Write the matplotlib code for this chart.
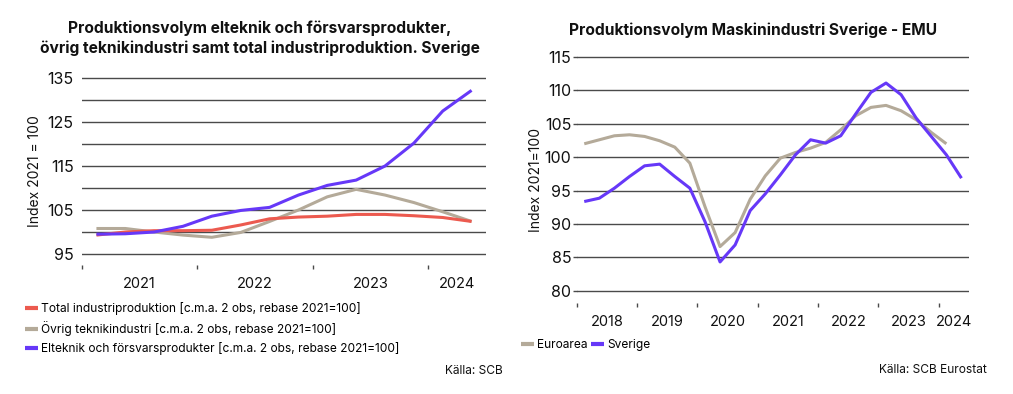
import numpy as np
import matplotlib
matplotlib.use("Agg")
import matplotlib.pyplot as plt
from matplotlib.lines import Line2D

plt.rcParams['font.family'] = ['Inter', 'DejaVu Sans']

# ---------------- Data ----------------
quarters_left = ["2021Q1", "2021Q2", "2021Q3", "2021Q4",
                 "2022Q1", "2022Q2", "2022Q3", "2022Q4",
                 "2023Q1", "2023Q2", "2023Q3", "2023Q4",
                 "2024Q1", "2024Q2"]
total_industri = [99.3, 100.0, 100.3, 100.3, 100.4, 101.6, 103.0, 103.4,
                  103.6, 104.0, 104.0, 103.7, 103.3, 102.4]
ovrig_teknik = [100.8, 100.8, 100.0, 99.3, 98.8, 99.9, 102.4, 105.0,
                108.0, 109.7, 108.4, 106.7, 104.6, 102.4]
elteknik_forsvar = [99.5, 99.6, 100.0, 101.3, 103.6, 104.9, 105.6, 108.4,
                    110.6, 111.8, 115.0, 120.2, 127.5, 132.2]
years_left = ["2021", "2022", "2023", "2024"]

quarters_right = [f"{y}Q{q}" for y in range(2018, 2025) for q in range(1, 5)][:26]
sverige = [93.35, 93.85, 95.35, 97.1, 98.7, 98.95, 97.1, 95.35,
           90.35, 84.3, 86.85, 92.0, 94.5, 97.35, 100.35, 102.6,
           102.1, 103.2, 106.5, 109.7, 111.1, 109.35, 105.85, 103.1,
           100.35, 96.85]
euroarea = [102.0, 102.6, 103.2, 103.35, 103.1, 102.45, 101.5, 99.1,
            92.6, 86.6, 88.7, 93.7, 97.2, 99.85, 100.7, 101.35,
            102.2, 104.1, 106.2, 107.45, 107.75, 106.95, 105.6, 103.7,
            102.0]
years_right = ["2018", "2019", "2020", "2021", "2022", "2023", "2024"]

# ---------------- Style ----------------
RED = "#EC5A4F"
GRAY = "#B4AA99"
BLUE = "#6638F8"
GRID = "#4a4a4a"
TXT = "#111111"

W, H = 1013, 394
fig = plt.figure(figsize=(W / 100, H / 100), dpi=100)


def px_axes(l, r, t, b):
    return fig.add_axes([l / W, 1 - b / H, (r - l) / W, (b - t) / H])


def style_axes(ax, n, years, yticks, ylabels_every):
    for s in ax.spines.values():
        s.set_visible(False)
    ax.set_xlim(-0.5, n - 0.5)
    bounds = [i - 0.5 for i in range(0, n, 4)]
    centres = []
    for k in range(len(years)):
        a = 4 * k
        b = min(4 * k + 3, n - 1)
        centres.append((a + b) / 2)
    ax.set_xticks(bounds, minor=True)
    ax.set_xticks(centres)
    ax.set_xticklabels(years, fontsize=10.5, color=TXT)
    ax.tick_params(axis='x', which='major', length=0, pad=9)
    ax.tick_params(axis='x', which='minor', length=3, width=1.0,
                   color=GRID, direction='out')
    ax.set_yticks(yticks)
    ax.set_yticklabels([str(v) if (i % ylabels_every == 0) else ""
                        for i, v in enumerate(yticks)], fontsize=11.5,
                       color=TXT)
    ax.tick_params(axis='y', length=3, width=1.0, color=GRID, pad=1)
    ax.grid(axis='y', color=GRID, linewidth=1.0)
    ax.set_axisbelow(True)


# ---------------- Left chart ----------------
axL = px_axes(82, 486, 77.4, 265)
nL = len(quarters_left)
xL = np.arange(nL)
axL.set_ylim(92.5, 135.15)
style_axes(axL, nL, years_left, list(range(95, 136, 5)), 2)
axL.tick_params(axis='y', length=0, pad=6)
axL.plot(xL, ovrig_teknik, color=GRAY, lw=2.2, solid_capstyle='butt')
axL.plot(xL, total_industri, color=RED, lw=2.2, solid_capstyle='butt')
axL.plot(xL, elteknik_forsvar, color=BLUE, lw=2.2, solid_capstyle='butt')
axL.set_ylabel("Index 2021 = 100", fontsize=10, color=TXT, labelpad=4)

fig.text(260 / W, 1 - 38 / H,
         "Produktionsvolym elteknik och försvarsprodukter,\n"
         "övrig teknikindustri samt total industriproduktion. Sverige",
         ha='center', va='center', fontsize=11.2, fontweight='bold',
         color=TXT, linespacing=1.4)

handlesL = [Line2D([], [], color=RED, lw=3, solid_capstyle='butt'),
            Line2D([], [], color=GRAY, lw=3, solid_capstyle='butt'),
            Line2D([], [], color=BLUE, lw=3, solid_capstyle='butt')]
labelsL = ["Total industriproduktion [c.m.a. 2 obs, rebase 2021=100]",
           "Övrig teknikindustri [c.m.a. 2 obs, rebase 2021=100]",
           "Elteknik och försvarsprodukter [c.m.a. 2 obs, rebase 2021=100]"]
fig.legend(handlesL, labelsL, loc='upper left',
           bbox_to_anchor=(25 / W, 1 - 302 / H), frameon=False,
           fontsize=8.6, handlelength=1.1, handletextpad=0.25,
           borderpad=0, borderaxespad=0, labelspacing=0.52)
fig.text(503 / W, 1 - 371 / H, "Källa: SCB", ha='right', va='center',
         fontsize=8.6, color=TXT)

# ---------------- Right chart ----------------
axR = px_axes(576.7, 969, 56, 303)
nR = len(quarters_right)
xR = np.arange(nR)
axR.set_ylim(78.15, 115.15)
style_axes(axR, nR, years_right, list(range(80, 116, 5)), 1)
axR.plot(np.arange(len(euroarea)), euroarea, color=GRAY, lw=2.2,
         solid_capstyle='butt')
axR.plot(xR, sverige, color=BLUE, lw=2.2, solid_capstyle='butt')
axR.set_ylabel("Index 2021=100", fontsize=10, color=TXT, labelpad=1)

fig.text(753 / W, 1 - 30 / H,
         "Produktionsvolym Maskinindustri Sverige - EMU",
         ha='center', va='center', fontsize=11.2, fontweight='bold',
         color=TXT)

handlesR = [Line2D([], [], color=GRAY, lw=3, solid_capstyle='butt'),
            Line2D([], [], color=BLUE, lw=3, solid_capstyle='butt')]
fig.legend(handlesR, ["Euroarea", "Sverige"], loc='upper left',
           bbox_to_anchor=(521 / W, 1 - 339 / H), frameon=False, ncol=2,
           fontsize=8.6, handlelength=1.1, handletextpad=0.25,
           columnspacing=0.3, borderpad=0, borderaxespad=0)
fig.text(987 / W, 1 - 370 / H, "Källa: SCB Eurostat", ha='right',
         va='center', fontsize=8.6, color=TXT)

fig.savefig("out.png", dpi=100)
